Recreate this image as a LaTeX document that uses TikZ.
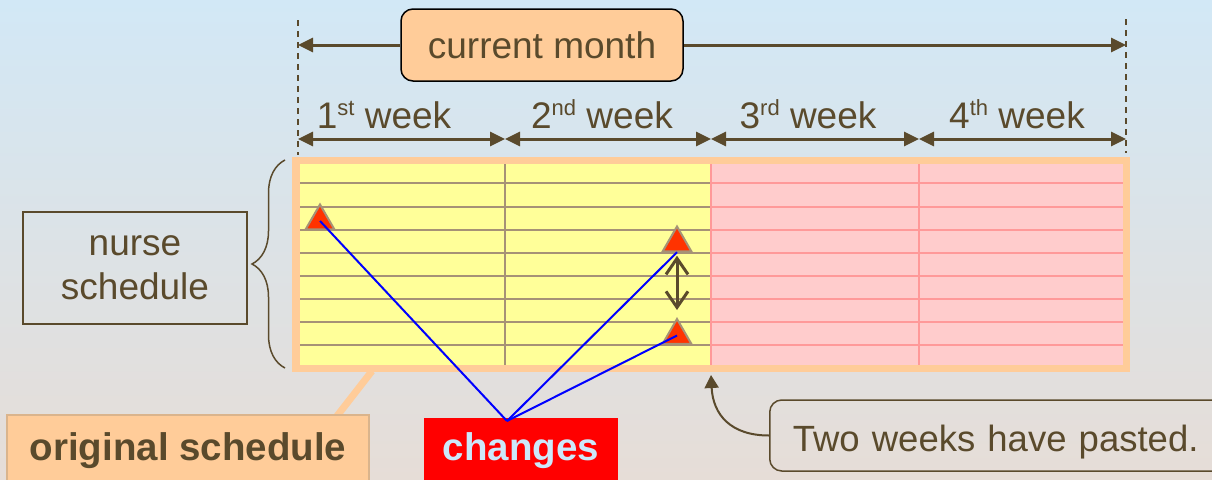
\documentclass[tikz,border=0pt]{standalone}
\usepackage{fontspec}
\setmainfont{Liberation Sans}
\usetikzlibrary{arrows.meta,shapes.geometric,decorations.pathreplacing,calc}

\definecolor{ink}{RGB}{90,74,44}
\definecolor{bgtop}{RGB}{210,232,246}
\definecolor{bgmid}{RGB}{220,228,234}
\definecolor{bgbot}{RGB}{230,221,215}
\definecolor{peach}{RGB}{255,204,153}
\definecolor{peachedge}{RGB}{218,180,140}
\definecolor{lemon}{RGB}{255,255,153}
\definecolor{blush}{RGB}{255,204,204}
\definecolor{blushline}{RGB}{255,153,153}
\definecolor{rule}{RGB}{166,146,118}
\definecolor{mark}{RGB}{255,51,0}
\definecolor{link}{RGB}{0,0,255}
\definecolor{alert}{RGB}{255,0,0}
\definecolor{alerttext}{RGB}{205,232,250}

\newcommand{\wksup}[1]{\raisebox{13pt}{\fontsize{22}{22}\selectfont #1}}

\begin{document}
\begin{tikzpicture}[x=1pt,y=-1pt,
  big/.style={font=\fontsize{37}{44}\selectfont},
  bigbold/.style={font=\fontsize{38.5}{44}\selectfont\bfseries},
  span/.style={ink,line width=3pt,{Triangle[length=15pt,width=14pt]}-{Triangle[length=15pt,width=14pt]}},
  spanend/.style={ink,line width=3pt,-{Triangle[length=15pt,width=14pt]}},
  guide/.style={ink,line width=1.8pt,dash pattern=on 6pt off 5pt},
  weeklabel/.style={big,text=ink,anchor=base,inner sep=0pt},
  rowline/.style={line width=2pt},
  marker/.style={regular polygon,regular polygon sides=3,minimum size=33pt,inner sep=0pt,
                 fill=mark,draw=rule,line width=2pt},
  changeline/.style={link,line width=2pt},
]
\useasboundingbox (0,0) rectangle (1212,479);
\clip (0,0) rectangle (1212,479);
\shade[top color=bgtop,middle color=bgmid,bottom color=bgbot] (0,0) rectangle (1212,479);

% schedule grid: two past weeks in yellow, two coming weeks in pink
\fill[peach] (292,157) rectangle (1130,372);
\fill[lemon] (300,164) rectangle (711,365);
\fill[blush] (711,164) rectangle (1123,365);
\foreach \y in {183,207,230,253,276,299,322,345} {
  \draw[rule,rowline] (300,\y) -- (711,\y);
  \draw[blushline,rowline] (711,\y) -- (1123,\y);
}
\draw[rule,rowline] (505,164) -- (505,365);
\draw[blushline,rowline] (711,164) -- (711,365);
\draw[blushline,rowline] (919,164) -- (919,365);

% month limits
\coordinate (g0top) at (298,20);
\coordinate (g0bot) at (298,155);
\coordinate (g4top) at (1126,19);
\coordinate (g4bot) at (1126,153);
\draw[guide] (g0top) -- (g0bot);
\draw[guide] (g4top) -- (g4bot);

% current month span
\node[draw=black,line width=1.5pt,fill=peach,rounded corners=12pt,minimum width=282pt,
      minimum height=72pt,big,text=ink] (cm) at (542,45) {current month};
\coordinate (m0) at (298,45);
\coordinate (m1) at (1126,45);
\draw[spanend] (cm.west) -- (m0);
\draw[spanend] (cm.east) -- (m1);

% week spans
\coordinate (w0) at (298,139);
\coordinate (w1) at (505,139);
\coordinate (w2) at (711,139);
\coordinate (w3) at (919,139);
\coordinate (w4) at (1126,139);
\draw[span] (w0) -- (w1);
\draw[span] (w1) -- (w2);
\draw[span] (w2) -- (w3);
\draw[span] (w3) -- (w4);
\node[weeklabel] (wk1) at (384,128) {1\wksup{st} week};
\node[weeklabel] (wk2) at (602,128) {2\wksup{nd} week};
\node[weeklabel] (wk3) at (808,128) {3\wksup{rd} week};
\node[weeklabel] (wk4) at (1017,128) {4\wksup{th} week};

% rows brace and its label
\draw[ink,line width=1.5pt,decorate,decoration={brace,amplitude=33pt}] (285,368) -- (285,160);
\node[draw=ink,line width=1.5pt,minimum width=224pt,minimum height=112pt,align=center,
      big,text=ink] (ns) at (135,268) {nurse\\schedule};

% original schedule tag
\coordinate (gfoot) at (372,371);
\coordinate (otop) at (337,416);
\draw[peach,line width=7pt] (gfoot) -- (otop);
\node[fill=peach,draw=peachedge,line width=2pt,minimum width=362pt,minimum height=71pt,
      text height=27pt,text depth=8pt,bigbold,text=ink] (osch) at (188,450.5) {original schedule};

% changed shifts
\node[marker] (t1) at (320,221) {};
\node[marker] (t2) at (677,243) {};
\node[marker] (t3) at (677,335.5) {};
\draw[ink,line width=3pt,{Straight Barb[length=16pt,width=22pt]}-{Straight Barb[length=16pt,width=22pt]}]
  ([yshift=-3.5pt]t2.side 2) -- ([yshift=7pt]t3.corner 1);

\node[fill=alert,minimum width=194pt,minimum height=65pt,text height=27pt,text depth=8pt,
      bigbold,text=alerttext] (ch) at (521,450.5) {changes};
\coordinate (hub) at (507,421);
\draw[changeline] (hub) -- (t1.center);
\draw[changeline] (hub) -- (t2.side 2);
\draw[changeline] (hub) -- (t3.center);

% elapsed time note
\node[draw=ink,line width=1.5pt,rounded corners=12pt,anchor=west,minimum height=71pt,
      text width=440pt,inner xsep=23pt,align=left,text height=36pt,text depth=5pt,
      font=\fontsize{36.5}{44}\selectfont,text=ink] (note) at (769,435.5) {Two weeks have pasted.};
\coordinate (gap) at (711,375);
\draw[ink,line width=2pt,-{Triangle[length=13pt,width=14pt]}]
  (note.west) .. controls +(-38,0) and +(2,40) .. (gap);
\end{tikzpicture}
\end{document}
